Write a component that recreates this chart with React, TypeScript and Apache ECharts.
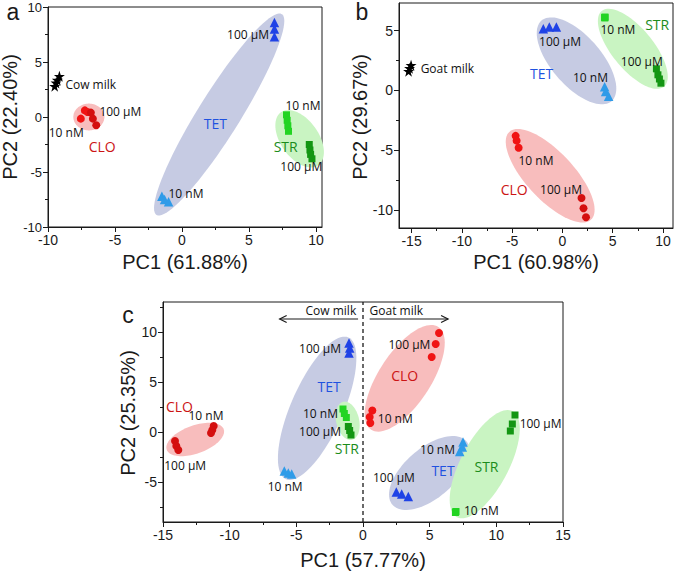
import React, { useEffect, useRef } from "react";
import * as echarts from "echarts";

type Pt = [number, number];

// ---------- Panel a: cow milk ----------
const aMilk: Pt[] = [[-9.5, 2.8], [-9.4, 3.1], [-9.3, 3.35], [-9.15, 3.7]];
const aClo10: Pt[] = [[-7.55, -0.15], [-7.25, 0.6], [-7.05, 0.45]];
const aClo100: Pt[] = [[-6.8, 0.4], [-6.65, -0.15], [-6.4, -0.75]];
const aTet10: Pt[] = [[-1.5, -7.2], [-1.3, -7.5], [-1.0, -7.7]];
const aTet100: Pt[] = [[6.9, 8.6], [6.9, 8.0], [6.9, 7.3]];
const aStr10: Pt[] = [[7.8, 0.2], [7.85, -0.3], [7.9, -0.8], [7.95, -1.3]];
const aStr100: Pt[] = [[9.5, -2.5], [9.55, -3.0], [9.6, -3.4], [9.7, -3.8]];

// ---------- Panel b: goat milk ----------
const bMilk: Pt[] = [[-15.3, 1.6], [-15.2, 1.85], [-15.05, 2.1]];
const bClo10: Pt[] = [[-4.65, -3.8], [-4.55, -4.2], [-4.35, -4.8]];
const bClo100: Pt[] = [[1.9, -9.0], [2.1, -9.85], [2.35, -10.6]];
const bTet10: Pt[] = [[4.2, 0.3], [4.3, -0.1], [4.6, -0.5]];
const bTet100: Pt[] = [[-1.9, 5.15], [-1.3, 5.3], [-0.6, 5.3]];
const bStr10: Pt[] = [[4.2, 6.1], [4.22, 6.05], [4.25, 6.12]];
const bStr100: Pt[] = [[9.35, 1.8], [9.5, 1.3], [9.65, 0.95], [9.8, 0.6]];

// ---------- Panel c: cow + goat milk ----------
const cCowClo10: Pt[] = [[-11.2, 0.6], [-11.3, 0.2], [-11.4, -0.1]];
const cCowClo100: Pt[] = [[-14.1, -0.9], [-14.0, -1.4], [-13.85, -1.8]];
const cCowTet10: Pt[] = [[-5.9, -3.9], [-5.6, -4.1], [-5.35, -4.2]];
const cCowTet100: Pt[] = [[-1.05, 8.9], [-1.0, 8.4], [-1.05, 7.9]];
const cCowStr10: Pt[] = [[-1.5, 2.3], [-1.4, 1.85], [-1.25, 1.45]];
const cCowStr100: Pt[] = [[-1.1, 0.55], [-1.0, 0.15], [-0.9, -0.3]];
const cGoatClo10: Pt[] = [[0.7, 2.15], [0.5, 1.5], [0.55, 0.9]];
const cGoatClo100: Pt[] = [[5.7, 9.9], [5.45, 8.8], [5.15, 7.5]];
const cGoatTet10: Pt[] = [[7.5, -1.0], [7.45, -1.5], [7.25, -1.95]];
const cGoatTet100: Pt[] = [[2.5, -6.0], [2.9, -6.2], [3.4, -6.45]];
const cGoatStr10: Pt[] = [[6.95, -8.0], [6.97, -7.95], [6.93, -8.05]];
const cGoatStr100: Pt[] = [[11.4, 1.7], [11.2, 0.8], [11.05, 0.1]];

// Group ellipses: major-axis end points and semi-minor axis (in x-axis units)
type Group = "CLO" | "TET" | "STR";
type Ell = [Group, number, number, number, number, number];
const aEllipses: Ell[] = [
  ["CLO", -8.11, 0.0, -5.79, 0.0, 1.0],
  ["TET", -1.9, -8.9, 7.45, 9.35, 1.57],
  ["STR", 7.39, 0.43, 10.17, -4.39, 1.42],
];
const bEllipses: Ell[] = [
  ["TET", -2.08, 5.83, 4.89, -0.9, 2.48],
  ["STR", 3.91, 6.63, 10.1, 0.31, 2.05],
  ["CLO", -5.28, -3.47, 2.85, -10.8, 2.37],
];
const cEllipses: Ell[] = [
  ["CLO", -14.72, -1.78, -10.45, 0.28, 1.05],
  ["TET", -5.78, -4.72, -1.1, 9.46, 1.95],
  ["STR", -1.48, 3.02, -0.82, -0.78, 0.86],
  ["CLO", 0.61, 0.23, 5.65, 10.51, 1.95],
  ["TET", 2.21, -7.28, 7.75, -0.92, 1.87],
  ["STR", 7.04, -8.52, 11.22, 2.08, 1.8],
];

// Annotations: anchor (data units), text, kind
type Kind = "conc" | "milk" | Group;
type Lab = [number, number, string, Kind];
const aLabels: Lab[] = [
  [-6.81, 2.94, "Cow milk", "milk"],
  [4.93, 7.53, "100 µM", "conc"],
  [2.49, -0.56, "TET", "TET"],
  [0.3, -6.95, "10 nM", "conc"],
  [9.03, 1.01, "10 nM", "conc"],
  [7.74, -2.64, "STR", "STR"],
  [8.9, -4.54, "100 µM", "conc"],
  [-4.6, 0.53, "100 µM", "conc"],
  [-8.64, -1.4, "10 nM", "conc"],
  [-5.96, -2.64, "CLO", "CLO"],
];
const bLabels: Lab[] = [
  [-11.44, 1.8, "Goat milk", "milk"],
  [-0.24, 4.1, "100 µM", "conc"],
  [-2.06, 1.43, "TET", "TET"],
  [2.79, 1.04, "10 nM", "conc"],
  [5.52, 5.06, "10 nM", "conc"],
  [9.43, 5.5, "STR", "STR"],
  [7.89, 2.43, "100 µM", "conc"],
  [-4.79, -8.31, "CLO", "CLO"],
  [-2.63, -5.82, "10 nM", "conc"],
  [-0.14, -8.31, "100 µM", "conc"],
];
const cLabels: Lab[] = [
  [-2.41, 12.2, "Cow milk", "milk"],
  [2.5, 12.2, "Goat milk", "milk"],
  [-3.22, 8.37, "100 µM", "conc"],
  [-2.54, 4.6, "TET", "TET"],
  [-3.19, 1.87, "10 nM", "conc"],
  [-3.22, 0.03, "100 µM", "conc"],
  [-1.21, -1.63, "STR", "STR"],
  [-5.84, -5.4, "10 nM", "conc"],
  [-13.77, 2.6, "CLO", "CLO"],
  [-11.78, 1.7, "10 nM", "conc"],
  [-13.34, -3.3, "100 µM", "conc"],
  [3.48, 8.8, "100 µM", "conc"],
  [3.13, 5.7, "CLO", "CLO"],
  [2.42, 1.37, "10 nM", "conc"],
  [13.32, 0.87, "100 µM", "conc"],
  [9.26, -3.4, "STR", "STR"],
  [5.59, -1.73, "10 nM", "conc"],
  [6.0, -3.8, "TET", "TET"],
  [2.32, -4.57, "100 µM", "conc"],
  [8.88, -7.8, "10 nM", "conc"],
];

// Milk-type arrows and divider in panel c
const cArrows: [number, number, number, number][] = [
  [-0.37, 11.3, -6.25, 11.3],
  [0.5, 11.3, 6.38, 11.3],
];
const cDivider = 0;

// Axis ticks
const aXMajor = [-10, -5, 0, 5, 10];
const aXMinor = [-7.5, -2.5, 2.5, 7.5];
const aYMajor = [-10, -5, 0, 5, 10];
const aYMinor = [-7.5, -2.5, 2.5, 7.5];
const bXMajor = [-15, -10, -5, 0, 5, 10];
const bXMinor = [-12.5, -7.5, -2.5, 2.5, 7.5];
const bYMajor = [-10, -5, 0, 5];
const bYMinor = [-7.5, -2.5, 2.5];
const cXMajor = [-15, -10, -5, 0, 5, 10, 15];
const cXMinor = [-12.5, -7.5, -2.5, 2.5, 7.5, 12.5];
const cYMajor = [-5, 0, 5, 10];
const cYMinor = [-7.5, -2.5, 2.5, 7.5, 12.5];

const STAR =
  "path://M50 0 L61.8 35.4 L99 35.4 L69 57.3 L80.4 92.7 L50 70.8 L19.6 92.7 L31 57.3 L1 35.4 L38.2 35.4 Z";

const FILL: Record<Group, string> = { CLO: "#f8bdbd", TET: "#c6cbe3", STR: "#c9f4c2" };
const TEXT_COLOR: Record<Kind, string> = {
  CLO: "#cc1414",
  TET: "#1f52e0",
  STR: "#1b8c1b",
  conc: "#111111",
  milk: "#111111",
};
const MARK = {
  milk: { symbol: STAR, color: "#000000", size: 11 },
  clo10: { symbol: "circle", color: "#f01414", size: 8 },
  clo100: { symbol: "circle", color: "#d40f0f", size: 8 },
  tet10: { symbol: "triangle", color: "#2f9be8", size: 9.5 },
  tet100: { symbol: "triangle", color: "#1f42e6", size: 9.5 },
  str10: { symbol: "rect", color: "#22d422", size: 7 },
  str100: { symbol: "rect", color: "#139613", size: 7 },
};
type MarkKey = keyof typeof MARK;

const LABEL_FONT = "'Open Sans', 'Noto Sans', sans-serif";
const AXIS_FONT = "'Liberation Sans', Arial, sans-serif";
const INK = "#1a1a1a";

function mainAxis(
  gi: number,
  min: number,
  max: number,
  majors: number[],
  pos: string,
  fontSize = 14
) {
  return {
    type: "value",
    gridIndex: gi,
    min,
    max,
    position: pos,
    axisLine: { show: true, onZero: false, lineStyle: { color: INK, width: 1 } },
    axisTick: { show: true, length: 5, customValues: majors, lineStyle: { color: INK, width: 1 } },
    axisLabel: {
      show: true,
      customValues: majors,
      fontSize,
      lineHeight: 12,
      color: INK,
      fontFamily: AXIS_FONT,
      margin: pos === "bottom" ? 7 : 6,
    },
    splitLine: { show: false },
    minorTick: { show: false },
    minorSplitLine: { show: false },
  };
}

function minorAxis(gi: number, min: number, max: number, minors: number[], pos: string) {
  return {
    type: "value",
    gridIndex: gi,
    min,
    max,
    position: pos,
    axisLine: { show: false, onZero: false },
    axisTick: { show: true, length: 3, customValues: minors, lineStyle: { color: INK, width: 1 } },
    axisLabel: { show: false },
    splitLine: { show: false },
  };
}

function ellipseSeries(gi: number, items: Ell[]) {
  return {
    type: "custom",
    xAxisIndex: gi,
    yAxisIndex: gi,
    silent: true,
    z: 1,
    data: items.map((e) => [e[1], e[2], e[3], e[4], e[5]]),
    encode: { x: [0, 2], y: [1, 3] },
    renderItem: (params: any, api: any) => {
      const e = items[params.dataIndex];
      const p1 = api.coord([e[1], e[2]]);
      const p2 = api.coord([e[3], e[4]]);
      const b = Math.abs(api.size([e[5], 0])[0]);
      const cx = (p1[0] + p2[0]) / 2;
      const cy = (p1[1] + p2[1]) / 2;
      const a = Math.hypot(p2[0] - p1[0], p2[1] - p1[1]) / 2;
      const ang = Math.atan2(p2[1] - p1[1], p2[0] - p1[0]);
      const ca = Math.cos(ang);
      const sa = Math.sin(ang);
      const points: number[][] = [];
      for (let i = 0; i < 90; i++) {
        const t = (i / 90) * Math.PI * 2;
        const u = a * Math.cos(t);
        const v = b * Math.sin(t);
        points.push([cx + u * ca - v * sa, cy + u * sa + v * ca]);
      }
      return { type: "polygon", shape: { points }, style: { fill: FILL[e[0]] } };
    },
  };
}

function labelSeries(gi: number, items: Lab[]) {
  return {
    type: "custom",
    xAxisIndex: gi,
    yAxisIndex: gi,
    silent: true,
    z: 5,
    data: items.map((l) => [l[0], l[1]]),
    encode: { x: 0, y: 1 },
    renderItem: (params: any, api: any) => {
      const l = items[params.dataIndex];
      const p = api.coord([l[0], l[1]]);
      const group = l[3] === "CLO" || l[3] === "TET" || l[3] === "STR";
      return {
        type: "text",
        x: p[0],
        y: p[1],
        style: {
          text: l[2],
          fill: TEXT_COLOR[l[3]],
          fontSize: group ? 14 : 12,
          fontFamily: LABEL_FONT,
          align: "center",
          verticalAlign: "middle",
        },
      };
    },
  };
}

function pointSeries(gi: number, data: Pt[], key: MarkKey) {
  const m = MARK[key];
  return {
    type: "scatter",
    xAxisIndex: gi,
    yAxisIndex: gi,
    silent: true,
    z: 3,
    symbol: m.symbol,
    symbolSize: m.size,
    itemStyle: { color: m.color, opacity: 1 },
    data,
  };
}

function dividerSeries(gi: number, yMin: number, yMax: number) {
  return {
    type: "custom",
    xAxisIndex: gi,
    yAxisIndex: gi,
    silent: true,
    z: 4,
    data: [[cDivider, yMin, cDivider, yMax]],
    encode: { x: [0, 2], y: [1, 3] },
    renderItem: (_p: any, api: any) => {
      const p1 = api.coord([cDivider, yMin]);
      const p2 = api.coord([cDivider, yMax]);
      return {
        type: "line",
        shape: { x1: p1[0], y1: p1[1], x2: p2[0], y2: p2[1] },
        style: { stroke: INK, lineWidth: 1.3, lineDash: [4, 3] },
      };
    },
  };
}

function arrowSeries(gi: number) {
  return {
    type: "custom",
    xAxisIndex: gi,
    yAxisIndex: gi,
    silent: true,
    z: 4,
    data: cArrows.map((a) => [...a]),
    encode: { x: [0, 2], y: [1, 3] },
    renderItem: (params: any, api: any) => {
      const a = cArrows[params.dataIndex];
      const p1 = api.coord([a[0], a[1]]);
      const p2 = api.coord([a[2], a[3]]);
      const len = Math.hypot(p2[0] - p1[0], p2[1] - p1[1]);
      const dx = (p2[0] - p1[0]) / len;
      const dy = (p2[1] - p1[1]) / len;
      const h = 7;
      const w = 3.5;
      return {
        type: "group",
        children: [
          {
            type: "line",
            shape: { x1: p1[0], y1: p1[1], x2: p2[0], y2: p2[1] },
            style: { stroke: INK, lineWidth: 1.2 },
          },
          {
            type: "polyline",
            shape: {
              points: [
                [p2[0] - h * dx - w * dy, p2[1] - h * dy + w * dx],
                [p2[0], p2[1]],
                [p2[0] - h * dx + w * dy, p2[1] - h * dy - w * dx],
              ],
            },
            style: { stroke: INK, lineWidth: 1.2, fill: "none" },
          },
        ],
      };
    },
  };
}

function textEl(x: number, y: number, text: string, size: number, rotation = 0) {
  return {
    type: "text",
    x,
    y,
    rotation,
    silent: true,
    style: {
      text,
      fill: INK,
      fontSize: size,
      fontFamily: AXIS_FONT,
      align: "center",
      verticalAlign: "middle",
      textAlign: "center",
      textVerticalAlign: "middle",
    },
  };
}

function buildOption() {
  const grids = [
    { left: 48, top: 7, width: 274, height: 220 },
    { left: 399, top: 3, width: 274, height: 225 },
    { left: 163, top: 302, width: 400, height: 220 },
  ].map((g) => ({
    ...g,
    show: true,
    borderColor: INK,
    borderWidth: 1,
    backgroundColor: "transparent",
    containLabel: false,
    outerBoundsMode: "none",
  }));

  const xr: [number, number][] = [[-10, 10.45], [-16.25, 11], [-15, 15]];
  const yr: [number, number][] = [[-10, 10], [-11.5, 7.3], [-9, 13]];

  const xAxis = [
    mainAxis(0, xr[0][0], xr[0][1], aXMajor, "bottom"),
    mainAxis(1, xr[1][0], xr[1][1], bXMajor, "bottom"),
    mainAxis(2, xr[2][0], xr[2][1], cXMajor, "bottom"),
    minorAxis(0, xr[0][0], xr[0][1], aXMinor, "bottom"),
    minorAxis(1, xr[1][0], xr[1][1], bXMinor, "bottom"),
    minorAxis(2, xr[2][0], xr[2][1], cXMinor, "bottom"),
  ];
  const yAxis = [
    mainAxis(0, yr[0][0], yr[0][1], aYMajor, "left", 13),
    mainAxis(1, yr[1][0], yr[1][1], bYMajor, "left"),
    mainAxis(2, yr[2][0], yr[2][1], cYMajor, "left"),
    minorAxis(0, yr[0][0], yr[0][1], aYMinor, "left"),
    minorAxis(1, yr[1][0], yr[1][1], bYMinor, "left"),
    minorAxis(2, yr[2][0], yr[2][1], cYMinor, "left"),
  ];

  const series: any[] = [
    ellipseSeries(0, aEllipses),
    pointSeries(0, aMilk, "milk"),
    pointSeries(0, aClo10, "clo10"),
    pointSeries(0, aClo100, "clo100"),
    pointSeries(0, aTet10, "tet10"),
    pointSeries(0, aTet100, "tet100"),
    pointSeries(0, aStr10, "str10"),
    pointSeries(0, aStr100, "str100"),
    labelSeries(0, aLabels),

    ellipseSeries(1, bEllipses),
    pointSeries(1, bMilk, "milk"),
    pointSeries(1, bClo10, "clo10"),
    pointSeries(1, bClo100, "clo100"),
    pointSeries(1, bTet10, "tet10"),
    pointSeries(1, bTet100, "tet100"),
    pointSeries(1, bStr10, "str10"),
    pointSeries(1, bStr100, "str100"),
    labelSeries(1, bLabels),

    ellipseSeries(2, cEllipses),
    dividerSeries(2, yr[2][0], yr[2][1]),
    arrowSeries(2),
    pointSeries(2, cCowClo10, "clo100"),
    pointSeries(2, cCowClo100, "clo100"),
    pointSeries(2, cCowTet10, "tet10"),
    pointSeries(2, cCowTet100, "tet100"),
    pointSeries(2, cCowStr10, "str10"),
    pointSeries(2, cCowStr100, "str100"),
    pointSeries(2, cGoatClo10, "clo10"),
    pointSeries(2, cGoatClo100, "clo10"),
    pointSeries(2, cGoatTet10, "tet10"),
    pointSeries(2, cGoatTet100, "tet100"),
    pointSeries(2, cGoatStr10, "str10"),
    pointSeries(2, cGoatStr100, "str100"),
    labelSeries(2, cLabels),
  ];

  const graphic = [
    textEl(13, 12, "a", 23),
    textEl(362, 12, "b", 23),
    textEl(128, 315, "c", 23),
    textEl(185, 262, "PC1 (61.88%)", 20),
    textEl(10, 117, "PC2 (22.40%)", 20, Math.PI / 2),
    textEl(536, 262, "PC1 (60.98%)", 20),
    textEl(360, 117, "PC2 (29.67%)", 20, Math.PI / 2),
    textEl(363, 560, "PC1 (57.77%)", 20),
    textEl(128, 413, "PC2 (25.35%)", 20, Math.PI / 2),
  ];

  return {
    animation: false,
    backgroundColor: "#ffffff",
    grid: grids,
    xAxis,
    yAxis,
    series,
    graphic,
  };
}

export default function App() {
  const ref = useRef<HTMLDivElement>(null);
  useEffect(() => {
    document.body.style.margin = "0";
    const chart = echarts.init(ref.current as HTMLDivElement, undefined, { renderer: "svg" });
    chart.setOption(buildOption() as any);
    return () => chart.dispose();
  }, []);
  return (
    <div
      ref={ref}
      style={{ width: 675, height: 572, position: "absolute", left: 0, top: 0 }}
    />
  );
}
